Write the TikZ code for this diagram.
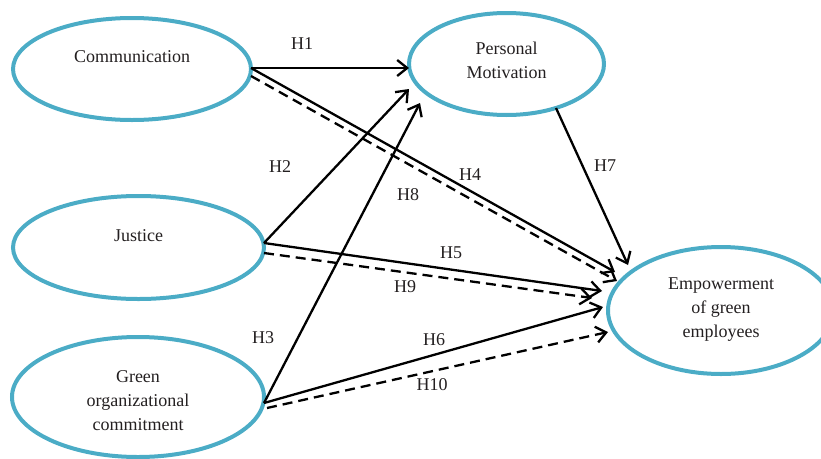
\documentclass[tikz,border=0pt]{standalone}
\usepackage{fontspec}
\setmainfont{Liberation Serif}
\usetikzlibrary{arrows.meta,shapes.geometric}
\definecolor{ellblue}{HTML}{4BACC6}
\definecolor{txt}{HTML}{231F20}
\begin{document}
\begin{tikzpicture}[x=1pt,y=-1pt,
  ell/.style={ellipse,draw=ellblue,line width=4pt,inner sep=0pt,outer sep=0pt},
  lbl/.style={font=\fontsize{18}{24}\selectfont,text=txt,align=center,inner sep=0pt},
  arr/.style={line width=2.3pt,-{Straight Barb[length=10pt,width=16pt,line width=2.3pt]}},
  darr/.style={arr,dash pattern=on 10pt off 6pt}]
\useasboundingbox (0,0) rectangle (821,458);
% ellipses
\node[ell,minimum width=238pt,minimum height=102pt] (comm) at (132,69) {};
\node[ell,minimum width=195pt,minimum height=102pt] (pm) at (506.5,64) {};
\node[ell,minimum width=251pt,minimum height=103pt] (just) at (138.5,247.5) {};
\node[ell,minimum width=252pt,minimum height=120pt] (green) at (138,397) {};
\node[ell,minimum width=226pt,minimum height=127pt] (emp) at (721,310.5) {};
% texts
\node[lbl] (commt) at (132,57) {Communication};
\node[lbl] (pmt) at (506.5,60) {Personal\\Motivation};
\node[lbl] (justt) at (138.5,236) {Justice};
\node[lbl] (greent) at (138,400.5) {Green\\organizational\\commitment};
\node[lbl] (empt) at (721,310) {Empowerment\\of green\\employees};
% arrows
\draw[arr,line width=1.8pt] ([yshift=1pt]comm.east) -- ([yshift=-4pt]pm.west);
\draw[arr] ([yshift=1pt]comm.east) -- ([xshift=7pt,yshift=38.5pt]emp.west);
\draw[darr] ([yshift=-7pt]comm.east) -- ([xshift=9pt,yshift=29.5pt]emp.west);
\draw[arr] ([yshift=4.5pt]just.east) -- ([yshift=-25pt]pm.west);
\draw[arr] ([yshift=-6pt]green.east) -- ([xshift=11pt,yshift=-39pt]pm.west);
\draw[arr] ([yshift=4.5pt]just.east) -- ([xshift=-6pt,yshift=19.5pt]emp.west);
\draw[darr] ([yshift=-5.5pt]just.east) -- ([xshift=-16pt,yshift=12.5pt]emp.west);
\draw[arr] ([yshift=-6pt]green.east) -- ([xshift=-5pt,yshift=3.5pt]emp.west);
\draw[darr] ([xshift=3pt,yshift=-11pt]green.east) -- ([yshift=-21.5pt]emp.west);
\draw[arr] ([xshift=49.5pt,yshift=7pt]pm.south) -- ([xshift=20pt,yshift=45.5pt]emp.west);
% hypothesis labels
\node[lbl] (h1) at (302,44) {H1};
\node[lbl] (h2) at (280,167) {H2};
\node[lbl] (h3) at (263,338) {H3};
\node[lbl] (h4) at (470,175) {H4};
\node[lbl] (h5) at (451,253) {H5};
\node[lbl] (h6) at (434,340) {H6};
\node[lbl] (h7) at (605,166) {H7};
\node[lbl] (h8) at (408,195) {H8};
\node[lbl] (h9) at (405,287) {H9};
\node[lbl] (h10) at (432,385) {H10};
\end{tikzpicture}
\end{document}
